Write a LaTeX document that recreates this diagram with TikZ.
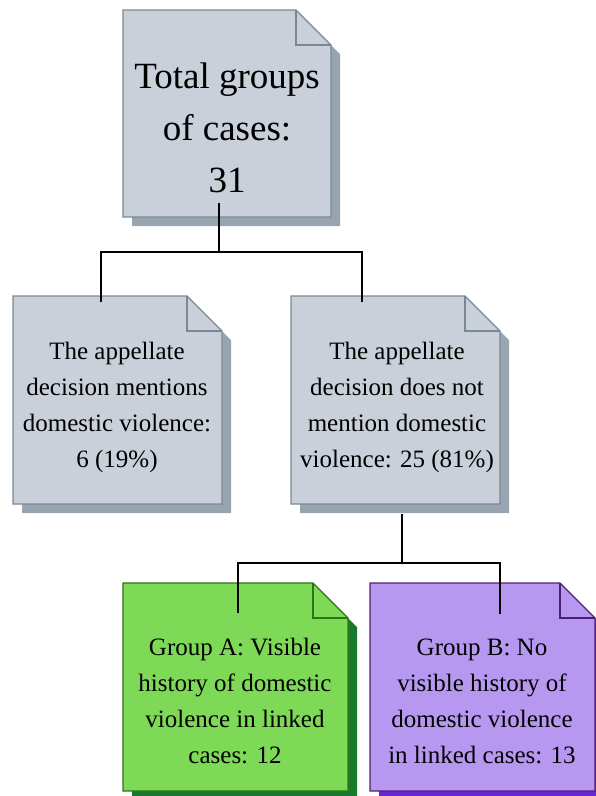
\documentclass[tikz,border=0pt]{standalone}
\usepackage{fontspec}
\newfontfamily\docfont{Liberation Serif}
\usepackage{tikz}
\usetikzlibrary{calc}
\usepackage{xcolor}
\definecolor{greyfill}{RGB}{201,208,217}
\definecolor{greyline}{RGB}{122,136,148}
\definecolor{greyshade}{RGB}{152,164,176}
\definecolor{greenfill}{RGB}{126,217,87}
\definecolor{greenline}{RGB}{46,115,22}
\definecolor{greenshade}{RGB}{22,122,42}
\definecolor{violetfill}{RGB}{183,152,240}
\definecolor{violetline}{RGB}{80,32,112}
\definecolor{violetshade}{RGB}{104,38,214}
\tikzset{
  pbox/.style={rectangle, draw=none, inner sep=0pt, outer sep=0pt},
  ptext/.style={align=center, inner sep=0pt, font=\docfont\fontsize{25}{36}\selectfont},
  link/.style={line width=2.8pt, color=black},
}
\newcommand{\paper}[4]{%
  \fill[#4] ($(#1.north west)+(9,9)$) -- ($(#1.north east)+(-26,9)$)
    -- ($(#1.north east)+(9,44)$) -- ($(#1.south east)+(9,9)$)
    -- ($(#1.south west)+(9,9)$) -- cycle;
  \filldraw[fill=#2, draw=#3, line width=1.3pt] (#1.north west)
    -- ($(#1.north east)+(-35,0)$) -- ($(#1.north east)+(0,35)$)
    -- (#1.south east) -- (#1.south west) -- cycle;
  \draw[#3, line width=1.3pt] ($(#1.north east)+(-35,0)$)
    -- ($(#1.north east)+(-35,35)$) -- ($(#1.north east)+(0,35)$);
}

\begin{document}
\begin{tikzpicture}[x=1pt, y=-1pt]
    \useasboundingbox (0,0) rectangle (595,796);
    \node[pbox, minimum width=208pt, minimum height=207pt] (total) at (227,113.5) {};
    \node[pbox, minimum width=209pt, minimum height=208pt] (ment) at (117.5,400) {};
    \node[pbox, minimum width=209pt, minimum height=208pt] (nomen) at (395.5,400) {};
    \node[pbox, minimum width=225pt, minimum height=208pt] (groupa) at (235.5,687) {};
    \node[pbox, minimum width=225pt, minimum height=208pt] (groupb) at (482.5,687) {};
    \paper{total}{greyfill}{greyline}{greyshade}
    \paper{ment}{greyfill}{greyline}{greyshade}
    \paper{nomen}{greyfill}{greyline}{greyshade}
    \paper{groupa}{greenfill}{greenline}{greenshade}
    \paper{groupb}{violetfill}{violetline}{violetshade}
    \node[ptext, font=\docfont\fontsize{37}{52}\selectfont] (totaltext) at (227,128)
      {Total groups\\of cases:\\31};
    \node[ptext] (menttext) at (117,407)
      {The appellate\\decision mentions\\domestic violence:\\6 (19\%)};
    \node[ptext] (nomentext) at (397,407)
      {The appellate\\decision does not\\mention domestic\\violence: 25 (81\%)};
    \node[ptext] (groupatext) at (235,701)
      {Group A: Visible\\history of domestic\\violence in linked\\cases: 12};
    \node[ptext] (groupbtext) at (482,701)
      {Group B: No\\visible history of\\domestic violence\\in linked cases: 13};
    \coordinate (bus1) at (219,252);
    \coordinate (bus2) at (402,563);
    \draw[link] ([xshift=-8pt, yshift=14pt]total.south) -- (bus1);
    \draw[link] ([xshift=-16.5pt, yshift=-6pt]ment.north) |- (bus1)
      -| ([xshift=-33.5pt, yshift=-6pt]nomen.north);
    \draw[link] ([xshift=6.5pt, yshift=-10pt]nomen.south) -- (bus2);
    \draw[link] ([xshift=2.5pt, yshift=-30pt]groupa.north) |- (bus2)
      -| ([xshift=17.5pt, yshift=-31pt]groupb.north);
  \end{tikzpicture}
\end{document}
